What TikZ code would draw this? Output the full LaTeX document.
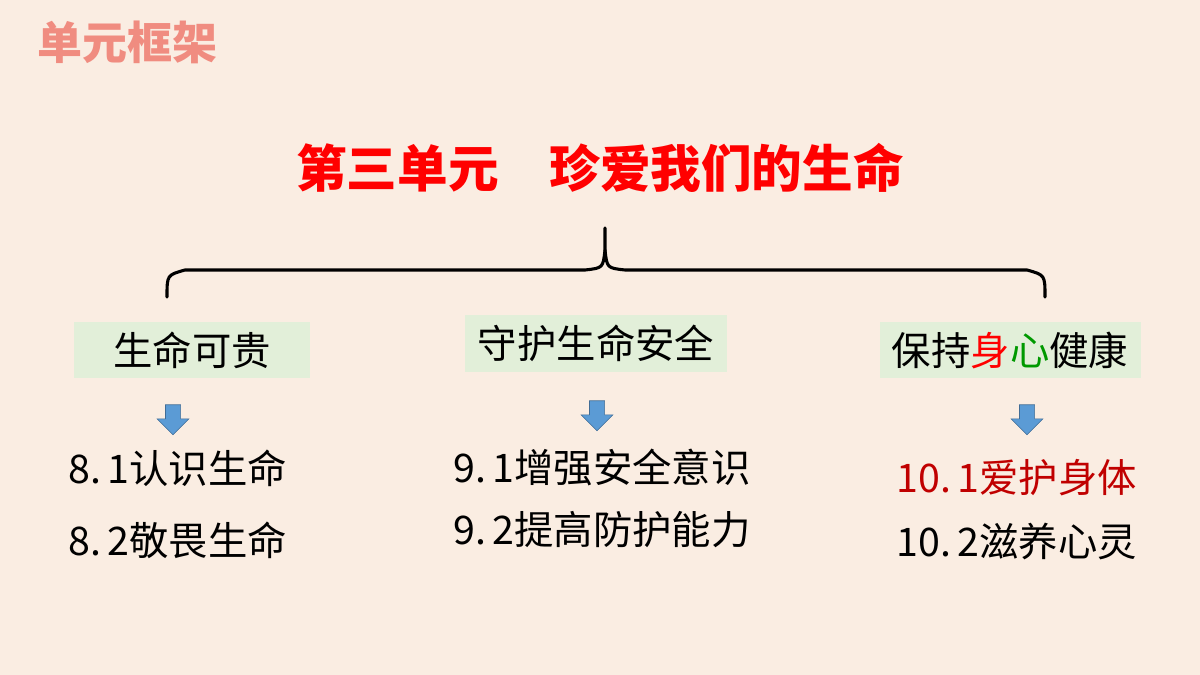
\documentclass[tikz,border=0pt]{standalone}
\usepackage{fontspec}
\setmainfont{Noto Sans CJK SC}
\usetikzlibrary{shapes.arrows}
\definecolor{bg}{HTML}{FAEDE2}
\definecolor{boxg}{HTML}{E2EFD9}
\definecolor{ttl}{HTML}{F08C80}
\definecolor{arr}{HTML}{5B9BD5}
\definecolor{dred}{HTML}{C00000}
\begin{document}
\begin{tikzpicture}[x=0.025cm,y=-0.025cm,
  cat/.style={fill=boxg,font=\fontsize{28}{30}\selectfont,inner sep=0pt,anchor=center},
  item/.style={font=\fontsize{28}{30}\selectfont,anchor=west,inner sep=0pt},
  darr/.style={single arrow,shape border rotate=270,fill=arr,draw=arr!70!black,line width=0.4pt,minimum width=26pt*0.87,single arrow head extend=3pt,minimum height=30*0.025cm,inner sep=2.5pt}]
\fill[bg] (0,0) rectangle (1200,675);
\useasboundingbox (0,0) rectangle (1200,675);
\node[anchor=west,text=ttl,font=\fontsize{32}{34}\selectfont\bfseries] (t) at (33,42) {单元框架};
\node[text=red,font=\fontsize{36}{38}\selectfont\bfseries] (main) at (600,168) {第三单元\quad 珍爱我们的生命};
\coordinate (bt) at (605,228);
\draw[line width=2.2pt,line cap=round] (167,297) .. controls (167,275) .. (185,270) -- (585,270) .. controls (603,268) .. (605,250) -- (bt);
\draw[line width=2.2pt,line cap=round] (1045,297) .. controls (1045,275) .. (1027,270) -- (625,270) .. controls (607,268) .. (605,250);
\node[cat,minimum width=236*0.025cm,minimum height=56*0.025cm] (c1) at (192,350) {生命可贵};
\node[cat,minimum width=262*0.025cm,minimum height=57*0.025cm] (c2) at (596,343) {守护生命安全};
\node[cat,minimum width=261*0.025cm,minimum height=56*0.025cm] (c3) at (1010,350) {保持{\color{red}身}{\color{green!60!black}心}健康};
\node[darr] (a1) at (173,416) {};
\node[darr] (a2) at (597,412) {};
\node[darr] (a3) at (1027,416) {};
\node[item] (i1) at (68,468) {8.\,1认识生命};
\node[item] (i2) at (68,540) {8.\,2敬畏生命};
\node[item] (i3) at (453,467) {9.\,1增强安全意识};
\node[item] (i4) at (453,530) {9.\,2提高防护能力};
\node[item,text=dred] (i5) at (896,478) {10.\,1爱护身体};
\node[item] (i6) at (896,541) {10.\,2滋养心灵};
\end{tikzpicture}
\end{document}
